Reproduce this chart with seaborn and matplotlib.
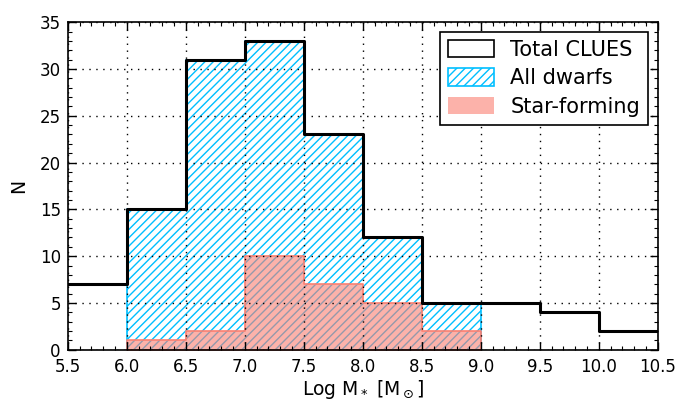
import numpy as np
import pandas as pd
import seaborn as sns
import matplotlib
matplotlib.use("Agg")
import matplotlib.pyplot as plt
import matplotlib.patches as mpatches
from matplotlib.ticker import MultipleLocator

# Data
bin_edges = [5.5, 6.0, 6.5, 7.0, 7.5, 8.0, 8.5, 9.0, 9.5, 10.0, 10.5]
total_counts = [7, 15, 31, 33, 23, 12, 5, 5, 4, 2]
dwarf_edges = [6.0, 6.5, 7.0, 7.5, 8.0, 8.5, 9.0]
dwarf_counts = [15, 31, 33, 23, 12, 5]
sf_counts = [1, 2, 10, 7, 5, 2]
xtick_labels = ["5.5", "6.0", "6.5", "7.0", "7.5", "8.0", "8.5", "9.0", "9.5", "10.0", "10.5"]

sns.set_style("ticks")
plt.rcParams['font.family'] = ['DejaVu Sans']
plt.rcParams['hatch.linewidth'] = 1.0
plt.rcParams['text.color'] = 'black'
plt.rcParams['axes.labelcolor'] = 'black'
plt.rcParams['xtick.color'] = 'black'
plt.rcParams['ytick.color'] = 'black'

def centers(edges):
    e = np.asarray(edges)
    return (e[:-1] + e[1:]) / 2

df_total = pd.DataFrame({"x": centers(bin_edges), "w": total_counts})
df_dwarf = pd.DataFrame({"x": centers(dwarf_edges), "w": dwarf_counts})
df_sf = pd.DataFrame({"x": centers(dwarf_edges), "w": sf_counts})

fig = plt.figure(figsize=(6.91, 4.03), dpi=100)
ax = fig.add_axes([0.098, 0.132, 0.854, 0.813])

dwarf_col = "#00bfff"
sf_col = "#fa8072"

sns.histplot(data=df_dwarf, x="x", weights="w", bins=dwarf_edges, element="step",
             fill=True, color=dwarf_col, facecolor="none", edgecolor=dwarf_col, hatch="////",
             linewidth=1.2, ax=ax)
sns.histplot(data=df_sf, x="x", weights="w", bins=dwarf_edges, element="step",
             fill=True, color=sf_col, facecolor=matplotlib.colors.to_rgba(sf_col, 0.6),
             edgecolor=sf_col, linewidth=1.2, ax=ax)
sns.histplot(data=df_total, x="x", weights="w", bins=bin_edges, element="step",
             fill=False, color="black", linewidth=2.2, ax=ax)

ax.set_xlim(5.5, 10.5)
ax.set_ylim(0, 35)
ax.set_xticks(bin_edges)
ax.set_xticklabels(xtick_labels)
ax.set_yticks(range(0, 36, 5))
ax.xaxis.set_minor_locator(MultipleLocator(0.1))
ax.yaxis.set_minor_locator(MultipleLocator(1))
ax.tick_params(which="both", direction="in", top=True, right=True, labelsize=12, color="black",
               labelcolor="black")
ax.tick_params(which="major", length=6, width=1)
ax.tick_params(which="minor", length=3, width=0.8)
ax.tick_params(axis="x", pad=6)
ax.tick_params(axis="y", pad=5)
for s in ax.spines.values():
    s.set_color("black")
    s.set_linewidth(1.2)
ax.set_axisbelow(False)
ax.grid(True, which="major", color="black", linestyle=(0, (1, 4)), linewidth=1.0)

ax.set_xlabel(r"Log M$_*$ [M$_\odot$]", fontsize=13.5, color="black", labelpad=1)
ax.set_ylabel("N", fontsize=13.5, color="black", labelpad=8)

handles = [
    mpatches.Patch(facecolor="white", edgecolor="black", linewidth=1.2, label="Total CLUES"),
    mpatches.Patch(facecolor="white", edgecolor=dwarf_col, hatch="////", linewidth=1.2, label="All dwarfs"),
    mpatches.Patch(facecolor=matplotlib.colors.to_rgba(sf_col, 0.6), edgecolor="none", label="Star-forming"),
]
leg = ax.legend(handles=handles, loc="upper right", fontsize=15, fancybox=False,
                edgecolor="black", framealpha=1, borderaxespad=0.45,
                handlelength=2.2, handleheight=0.9, labelspacing=0.4, borderpad=0.4)
leg.get_frame().set_linewidth(1.2)
for t in leg.get_texts():
    t.set_color("black")

fig.savefig("out.png", dpi=100)
